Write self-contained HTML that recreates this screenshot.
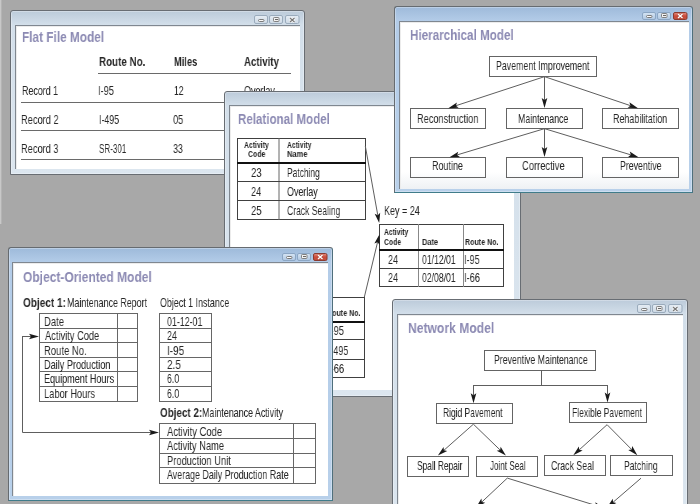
<!DOCTYPE html>
<html><head><meta charset="utf-8">
<style>
html,body{margin:0;padding:0}
body{width:700px;height:504px;position:relative;overflow:hidden;background:#a8a8a8;font-family:"Liberation Sans",sans-serif}
.lay{position:absolute;left:0;top:0;width:700px;height:504px}
.win{position:absolute;box-sizing:border-box;border:1px solid #686d73;border-radius:3px 3px 0 0;box-shadow:inset 0 0 0 1px rgba(255,255,255,.3)}
.ina{background:linear-gradient(#bccbda,#d3dfea 14px,#dce6ef)}
.act{background:linear-gradient(#9ebada,#b3cce8 14px,#b8d0ea);border-color:#666b70 #4f6f7c #3f7c8a #666b70}
.cnt{position:absolute;box-sizing:border-box;background:#fff;border-top:1px solid #7f8790;border-left:1px solid #7f8790;box-shadow:inset 1px 1px 0 #ececec}
.t{position:absolute;white-space:pre;line-height:1;transform-origin:0 0;color:#262626;will-change:transform}
.btn{position:absolute;box-sizing:border-box;width:14px;height:8px;border:1px solid #8f9fb0;border-radius:2px;background:linear-gradient(#dfe8f1,#c9d6e3)}
.act .btn{background:linear-gradient(#cfe0f1,#a9c2dc);border-color:#6f8aa6}
.act .btn.cl{background:linear-gradient(#e38a7c,#c4402f 60%,#b8402e);border-color:#7a3028}
svg{position:absolute;left:0;top:0}
</style></head><body><svg width="0" height="0" style="position:absolute"><defs><linearGradient id="gina" x1="0" y1="0" x2="0" y2="1"><stop offset="0" stop-color="#e6edf4"/><stop offset="1" stop-color="#cdd9e5"/></linearGradient><linearGradient id="gact" x1="0" y1="0" x2="0" y2="1"><stop offset="0" stop-color="#d6e5f4"/><stop offset="1" stop-color="#afc7e2"/></linearGradient><linearGradient id="gcl" x1="0" y1="0" x2="0" y2="1"><stop offset="0" stop-color="#e49484"/><stop offset=".5" stop-color="#cc4a3a"/><stop offset="1" stop-color="#c0503e"/></linearGradient></defs></svg>
<div style="position:absolute;left:0;top:0;width:1px;height:224px;background:#c8c8c8"></div><div style="position:absolute;left:1px;top:0;width:1px;height:224px;background:#b4b4b4"></div>

<!-- Flat file -->
<div class="lay">
 <div class="win ina" style="left:10px;top:10px;width:295px;height:165px"></div>
<svg width="700" height="504"><rect x="254.5" y="15.5" width="13" height="8" rx="1.5" fill="url(#gina)" stroke="#9aabbc"/><rect x="258.5" y="19.5" width="5.5" height="2" rx="1" fill="#fafafa" stroke="#7a7a7a"/><rect x="269.5" y="15.5" width="13" height="8" rx="1.5" fill="url(#gina)" stroke="#9aabbc"/><rect x="273.5" y="17.5" width="5.5" height="4" rx=".8" fill="#f2f2f2" stroke="#808080"/><line x1="275" y1="19.5" x2="278" y2="19.5" stroke="#666" stroke-width="1"/><rect x="285.5" y="15.5" width="13.5" height="8" rx="1.5" fill="url(#gina)" stroke="#9aabbc"/><path d="M290,18 L294.5,22 M294.5,18 L290,22" stroke="#fff" stroke-width="2.6"/><path d="M290,18 L294.5,22 M294.5,18 L290,22" stroke="#777" stroke-width="1.3"/></svg>
 <div class="cnt" style="left:15px;top:25px;width:285px;height:144px"></div>
 <svg width="700" height="504" shape-rendering="crispEdges"><g stroke="#6a6a6a" stroke-width="1">
  <line x1="98" y1="73.5" x2="291" y2="73.5"/>
  <line x1="21" y1="102.5" x2="291" y2="102.5"/>
  <line x1="21" y1="130.5" x2="291" y2="130.5"/>
  <line x1="21" y1="159.5" x2="291" y2="159.5"/>
 </g></svg>
<div class="t" style="left:21.79px;top:29.73px;font-size:14.49px;font-weight:bold;color:#8c8ab3;transform:scaleX(0.816)">Flat File Model</div>
<div class="t" style="left:99.31px;top:55.55px;font-size:12.46px;font-weight:bold;transform:scaleX(0.789)">Route No.</div>
<div class="t" style="left:173.84px;top:55.59px;font-size:12.17px;font-weight:bold;transform:scaleX(0.762)">Miles</div>
<div class="t" style="left:244.01px;top:55.59px;font-size:12.17px;font-weight:bold;transform:scaleX(0.795)">Activity</div>
<div class="t" style="left:21.59px;top:85.45px;font-size:12.46px;transform:scaleX(0.714)">Record 1</div>
<div class="t" style="left:98.47px;top:85.45px;font-size:12.46px;transform:scaleX(0.739)">I-95</div>
<div class="t" style="left:173.80px;top:85.94px;font-size:11.88px;transform:scaleX(0.726)">12</div>
<div class="t" style="left:243.84px;top:85.45px;font-size:12.46px;transform:scaleX(0.719)">Overlay</div>
<div class="t" style="left:21.16px;top:114.45px;font-size:12.46px;transform:scaleX(0.745)">Record 2</div>
<div class="t" style="left:99.01px;top:114.45px;font-size:12.46px;transform:scaleX(0.708)">I-495</div>
<div class="t" style="left:173.32px;top:114.94px;font-size:11.88px;transform:scaleX(0.780)">05</div>
<div class="t" style="left:21.16px;top:143.05px;font-size:12.46px;transform:scaleX(0.743)">Record 3</div>
<div class="t" style="left:99.48px;top:143.05px;font-size:12.46px;transform:scaleX(0.648)">SR-301</div>
<div class="t" style="left:173.33px;top:143.54px;font-size:11.88px;transform:scaleX(0.756)">33</div>
</div>

<!-- Relational -->
<div class="lay">
 <div class="win ina" style="left:224px;top:91px;width:297px;height:306px"></div>
 <div class="cnt" style="left:229px;top:105px;width:285px;height:285px"></div>
 <svg width="700" height="504"><g stroke="#404040" stroke-width="1" fill="none" shape-rendering="crispEdges">
  <rect x="237.5" y="138.5" width="128" height="81"/>
  <line x1="279" y1="138" x2="279" y2="220" stroke="#666" shape-rendering="auto"/>
  <line x1="237" y1="163" x2="366" y2="163" stroke-width="2" stroke="#111"/>
  <line x1="237" y1="181.5" x2="366" y2="181.5"/>
  <line x1="237" y1="200.5" x2="366" y2="200.5"/>
  <rect x="379.5" y="224.5" width="124" height="62"/>
  <line x1="418.5" y1="224" x2="418.5" y2="287" stroke="#888"/>
  <line x1="463.5" y1="224" x2="463.5" y2="287" stroke="#888"/>
  <line x1="379" y1="250" x2="504" y2="250" stroke-width="2" stroke="#111"/>
  <line x1="379" y1="268.5" x2="504" y2="268.5"/>
  <rect x="300.5" y="297.5" width="64" height="80"/>
  <line x1="300" y1="322" x2="365" y2="322" stroke-width="2" stroke="#111"/>
  <line x1="300" y1="339.5" x2="365" y2="339.5"/>
  <line x1="300" y1="359.5" x2="365" y2="359.5"/>
 </g>
 <polyline points="365.30,146.00 377.78,215.13" fill="none" stroke="#5e5e5e" stroke-width="1"/><path d="M379.20,223.00 L374.67,213.66 L377.78,215.13 L380.18,212.66 Z" fill="#1a1a1a"/><polyline points="364.30,297.20 377.53,242.28" fill="none" stroke="#5e5e5e" stroke-width="1"/><path d="M379.40,234.50 L379.78,244.88 L377.53,242.28 L374.34,243.57 Z" fill="#1a1a1a"/></svg>
<div class="t" style="left:237.61px;top:111.73px;font-size:14.49px;font-weight:bold;color:#8c8ab3;transform:scaleX(0.798)">Relational Model</div>
<div class="t" style="left:244.16px;top:140.98px;font-size:8.41px;font-weight:bold;transform:scaleX(0.814)">Activity</div>
<div class="t" style="left:247.72px;top:150.18px;font-size:8.41px;font-weight:bold;transform:scaleX(0.826)">Code</div>
<div class="t" style="left:287.26px;top:140.98px;font-size:8.41px;font-weight:bold;transform:scaleX(0.804)">Activity</div>
<div class="t" style="left:286.95px;top:150.18px;font-size:8.41px;font-weight:bold;transform:scaleX(0.889)">Name</div>
<div class="t" style="left:250.92px;top:166.95px;font-size:12.46px;transform:scaleX(0.766)">23</div>
<div class="t" style="left:286.92px;top:166.95px;font-size:12.46px;transform:scaleX(0.677)">Patching</div>
<div class="t" style="left:250.95px;top:186.05px;font-size:12.46px;transform:scaleX(0.728)">24</div>
<div class="t" style="left:287.24px;top:186.05px;font-size:12.46px;transform:scaleX(0.714)">Overlay</div>
<div class="t" style="left:250.93px;top:205.25px;font-size:12.46px;transform:scaleX(0.751)">25</div>
<div class="t" style="left:287.17px;top:205.25px;font-size:12.46px;transform:scaleX(0.688)">Crack Sealing</div>
<div class="t" style="left:384.18px;top:204.69px;font-size:12.17px;transform:scaleX(0.741)">Key = 24</div>
<div class="t" style="left:384.37px;top:228.18px;font-size:8.41px;font-weight:bold;transform:scaleX(0.797)">Activity</div>
<div class="t" style="left:384.23px;top:238.48px;font-size:8.41px;font-weight:bold;transform:scaleX(0.816)">Code</div>
<div class="t" style="left:421.56px;top:238.48px;font-size:8.41px;font-weight:bold;transform:scaleX(0.880)">Date</div>
<div class="t" style="left:465.11px;top:238.48px;font-size:8.41px;font-weight:bold;transform:scaleX(0.842)">Route No.</div>
<div class="t" style="left:387.75px;top:254.05px;font-size:12.46px;transform:scaleX(0.720)">24</div>
<div class="t" style="left:421.74px;top:254.05px;font-size:12.46px;transform:scaleX(0.696)">01/12/01</div>
<div class="t" style="left:464.48px;top:254.05px;font-size:12.46px;transform:scaleX(0.728)">I-95</div>
<div class="t" style="left:387.75px;top:271.55px;font-size:12.46px;transform:scaleX(0.720)">24</div>
<div class="t" style="left:421.74px;top:271.55px;font-size:12.46px;transform:scaleX(0.696)">02/08/01</div>
<div class="t" style="left:464.47px;top:271.55px;font-size:12.46px;transform:scaleX(0.744)">I-66</div>
<div class="t" style="left:327.28px;top:309.08px;font-size:8.41px;font-weight:bold;transform:scaleX(0.842)">Route No.</div>
<div class="t" style="left:327.67px;top:325.45px;font-size:12.46px;transform:scaleX(0.739)">I-95</div>
<div class="t" style="left:327.70px;top:345.15px;font-size:12.46px;transform:scaleX(0.715)">I-495</div>
<div class="t" style="left:327.65px;top:362.75px;font-size:12.46px;transform:scaleX(0.754)">I-66</div>
</div>

<!-- Hierarchical -->
<div class="lay">
 <div class="win act" style="left:394px;top:6px;width:299px;height:187px"></div>
<svg width="700" height="504"><rect x="642.5" y="12.5" width="13" height="7" rx="1.5" fill="url(#gact)" stroke="#8ba6c4"/><rect x="646.5" y="15.5" width="5.5" height="2" rx="1" fill="#fafafa" stroke="#7a7a7a"/><rect x="657.5" y="12.5" width="13" height="7" rx="1.5" fill="url(#gact)" stroke="#8ba6c4"/><rect x="661.5" y="13.5" width="5.5" height="4" rx=".8" fill="#f2f2f2" stroke="#808080"/><line x1="663" y1="15.5" x2="666" y2="15.5" stroke="#666" stroke-width="1"/><rect x="673.5" y="12.5" width="13.5" height="7" rx="1.5" fill="url(#gcl)" stroke="#8a3a30"/><path d="M678,14 L682.5,18 M682.5,14 L678,18" stroke="#8a3a30" stroke-width="2.4" opacity=".5"/><path d="M678,14 L682.5,18 M682.5,14 L678,18" stroke="#fff" stroke-width="1.4"/></svg>
 <div class="cnt" style="left:399px;top:21px;width:290px;height:168px;background:linear-gradient(#fff 150px,#eef1f4)"></div>
 <svg width="700" height="504"><g stroke="#646464" stroke-width="1" fill="none" shape-rendering="crispEdges">
  <rect x="489.5" y="56.5" width="107" height="20"/>
  <rect x="410.5" y="108.5" width="75" height="20"/>
  <rect x="506.5" y="108.5" width="76" height="20"/>
  <rect x="602.5" y="108.5" width="76" height="20"/>
  <rect x="410.5" y="157.5" width="75" height="20"/>
  <rect x="506.5" y="157.5" width="76" height="20"/>
  <rect x="602.5" y="157.5" width="76" height="20"/>
 </g>
 <polyline points="544.00,76.80 455.90,105.71" fill="none" stroke="#5e5e5e" stroke-width="1"/><path d="M448.30,108.20 L456.93,102.42 L455.90,105.71 L458.67,107.74 Z" fill="#1a1a1a"/><polyline points="544.50,76.80 544.50,100.00" fill="none" stroke="#5e5e5e" stroke-width="1"/><path d="M544.50,108.00 L541.70,98.00 L544.50,100.00 L547.30,98.00 Z" fill="#1a1a1a"/><polyline points="545.00,76.80 630.42,105.64" fill="none" stroke="#5e5e5e" stroke-width="1"/><path d="M638.00,108.20 L627.63,107.65 L630.42,105.64 L629.42,102.35 Z" fill="#1a1a1a"/><polyline points="544.00,128.80 457.16,154.90" fill="none" stroke="#5e5e5e" stroke-width="1"/><path d="M449.50,157.20 L458.27,151.64 L457.16,154.90 L459.88,157.00 Z" fill="#1a1a1a"/><polyline points="544.50,128.80 544.50,149.00" fill="none" stroke="#5e5e5e" stroke-width="1"/><path d="M544.50,157.00 L541.70,147.00 L544.50,149.00 L547.30,147.00 Z" fill="#1a1a1a"/><polyline points="545.00,128.80 630.85,154.87" fill="none" stroke="#5e5e5e" stroke-width="1"/><path d="M638.50,157.20 L628.12,156.97 L630.85,154.87 L629.75,151.61 Z" fill="#1a1a1a"/></svg>
<div class="t" style="left:410.00px;top:27.73px;font-size:14.49px;font-weight:bold;color:#8c8ab3;transform:scaleX(0.805)">Hierarchical Model</div>
<div class="t" style="left:496.40px;top:60.47px;font-size:12.32px;transform:scaleX(0.715)">Pavement Improvement</div>
<div class="t" style="left:417.06px;top:113.07px;font-size:12.32px;transform:scaleX(0.747)">Reconstruction</div>
<div class="t" style="left:517.90px;top:113.07px;font-size:12.32px;transform:scaleX(0.713)">Maintenance</div>
<div class="t" style="left:613.39px;top:113.07px;font-size:12.32px;transform:scaleX(0.725)">Rehabilitation</div>
<div class="t" style="left:432.18px;top:159.77px;font-size:12.32px;transform:scaleX(0.729)">Routine</div>
<div class="t" style="left:521.93px;top:159.77px;font-size:12.32px;transform:scaleX(0.761)">Corrective</div>
<div class="t" style="left:619.80px;top:159.77px;font-size:12.32px;transform:scaleX(0.713)">Preventive</div>
</div>

<!-- OO -->
<div class="lay">
 <div class="win act" style="left:8px;top:247px;width:325px;height:254px"></div>
<svg width="700" height="504"><rect x="282.5" y="253.5" width="13" height="7" rx="1.5" fill="url(#gact)" stroke="#8ba6c4"/><rect x="286.5" y="256.5" width="5.5" height="2" rx="1" fill="#fafafa" stroke="#7a7a7a"/><rect x="297.5" y="253.5" width="13" height="7" rx="1.5" fill="url(#gact)" stroke="#8ba6c4"/><rect x="301.5" y="254.5" width="5.5" height="4" rx=".8" fill="#f2f2f2" stroke="#808080"/><line x1="303" y1="256.5" x2="306" y2="256.5" stroke="#666" stroke-width="1"/><rect x="313.5" y="253.5" width="13.5" height="7" rx="1.5" fill="url(#gcl)" stroke="#8a3a30"/><path d="M318,255 L322.5,259 M322.5,255 L318,259" stroke="#8a3a30" stroke-width="2.4" opacity=".5"/><path d="M318,255 L322.5,259 M322.5,255 L318,259" stroke="#fff" stroke-width="1.4"/></svg>
 <div class="cnt" style="left:12px;top:262px;width:316px;height:234px"></div>
 <svg width="700" height="504"><g stroke="#666" stroke-width="1" fill="none" shape-rendering="crispEdges">
  <rect x="39.5" y="313.5" width="98" height="88"/>
  <line x1="117.5" y1="313" x2="117.5" y2="402"/>
  <line x1="39" y1="328.5" x2="138" y2="328.5"/>
  <line x1="39" y1="342.5" x2="138" y2="342.5"/>
  <line x1="39" y1="357.5" x2="138" y2="357.5"/>
  <line x1="39" y1="371.5" x2="138" y2="371.5"/>
  <line x1="39" y1="386.5" x2="138" y2="386.5"/>
  <rect x="159.5" y="313.5" width="52" height="88"/>
  <line x1="159" y1="328.5" x2="212" y2="328.5"/>
  <line x1="159" y1="342.5" x2="212" y2="342.5"/>
  <line x1="159" y1="357.5" x2="212" y2="357.5"/>
  <line x1="159" y1="371.5" x2="212" y2="371.5"/>
  <line x1="159" y1="386.5" x2="212" y2="386.5"/>
  <rect x="159.5" y="423.5" width="156" height="60"/>
  <line x1="293.5" y1="423" x2="293.5" y2="484"/>
  <line x1="159" y1="438.5" x2="316" y2="438.5"/>
  <line x1="159" y1="453.5" x2="316" y2="453.5"/>
  <line x1="159" y1="467.5" x2="316" y2="467.5"/>
 </g>
 <polyline stroke-linejoin="round" points="22.50,340.00 22.50,336.50 31.00,336.50" fill="none" stroke="#5e5e5e" stroke-width="1"/><path d="M39.00,336.50 L29.00,339.30 L31.00,336.50 L29.00,333.70 Z" fill="#1a1a1a"/><polyline points="22.5,336 22.5,432.5 150,432.5" fill="none" stroke="#5e5e5e"/><polyline points="150.00,432.50 151.00,432.50" fill="none" stroke="#5e5e5e" stroke-width="1"/><path d="M159.00,432.50 L149.00,435.30 L151.00,432.50 L149.00,429.70 Z" fill="#1a1a1a"/></svg>
<div class="t" style="left:22.92px;top:270.03px;font-size:14.49px;font-weight:bold;color:#8c8ab3;transform:scaleX(0.829)">Object-Oriented Model</div>
<div class="t" style="left:23.00px;top:297.22px;font-size:12.61px;font-weight:bold;transform:scaleX(0.796)">Object 1:</div>
<div class="t" style="left:67.29px;top:296.98px;font-size:12.90px;transform:scaleX(0.689)">Maintenance Report</div>
<div class="t" style="left:159.74px;top:296.98px;font-size:12.90px;transform:scaleX(0.690)">Object 1 Instance</div>
<div class="t" style="left:44.24px;top:316.20px;font-size:12.75px;transform:scaleX(0.746)">Date</div>
<div class="t" style="left:167.33px;top:316.20px;font-size:12.75px;transform:scaleX(0.695)">01-12-01</div>
<div class="t" style="left:45.00px;top:330.30px;font-size:12.75px;transform:scaleX(0.729)">Activity Code</div>
<div class="t" style="left:167.15px;top:330.30px;font-size:12.75px;transform:scaleX(0.704)">24</div>
<div class="t" style="left:44.24px;top:344.70px;font-size:12.75px;transform:scaleX(0.743)">Route No.</div>
<div class="t" style="left:166.70px;top:344.70px;font-size:12.75px;transform:scaleX(0.780)">I-95</div>
<div class="t" style="left:44.27px;top:358.80px;font-size:12.75px;transform:scaleX(0.715)">Daily Production</div>
<div class="t" style="left:167.10px;top:358.80px;font-size:12.75px;transform:scaleX(0.780)">2.5</div>
<div class="t" style="left:44.27px;top:373.40px;font-size:12.75px;transform:scaleX(0.711)">Equipment Hours</div>
<div class="t" style="left:167.16px;top:373.40px;font-size:12.75px;transform:scaleX(0.685)">6.0</div>
<div class="t" style="left:44.26px;top:387.70px;font-size:12.75px;transform:scaleX(0.728)">Labor Hours</div>
<div class="t" style="left:167.16px;top:387.70px;font-size:12.75px;transform:scaleX(0.685)">6.0</div>
<div class="t" style="left:159.51px;top:407.25px;font-size:12.46px;font-weight:bold;transform:scaleX(0.792)">Object 2:</div>
<div class="t" style="left:202.09px;top:407.25px;font-size:12.46px;transform:scaleX(0.714)">Maintenance Activity</div>
<div class="t" style="left:167.30px;top:425.95px;font-size:12.46px;transform:scaleX(0.758)">Activity Code</div>
<div class="t" style="left:167.30px;top:439.65px;font-size:12.46px;transform:scaleX(0.749)">Activity Name</div>
<div class="t" style="left:166.55px;top:455.15px;font-size:12.46px;transform:scaleX(0.749)">Production Unit</div>
<div class="t" style="left:167.30px;top:468.55px;font-size:12.46px;transform:scaleX(0.715)">Average Daily Production Rate</div>
</div>

<!-- Network -->
<div class="lay">
 <div class="win ina" style="left:392px;top:299px;width:296px;height:230px"></div>
<svg width="700" height="504"><rect x="637.5" y="304.5" width="13" height="8" rx="1.5" fill="url(#gina)" stroke="#9aabbc"/><rect x="641.5" y="308.5" width="5.5" height="2" rx="1" fill="#fafafa" stroke="#7a7a7a"/><rect x="652.5" y="304.5" width="13" height="8" rx="1.5" fill="url(#gina)" stroke="#9aabbc"/><rect x="656.5" y="306.5" width="5.5" height="4" rx=".8" fill="#f2f2f2" stroke="#808080"/><line x1="658" y1="308.5" x2="661" y2="308.5" stroke="#666" stroke-width="1"/><rect x="668.5" y="304.5" width="13.5" height="8" rx="1.5" fill="url(#gina)" stroke="#9aabbc"/><path d="M673,307 L677.5,311 M677.5,307 L673,311" stroke="#fff" stroke-width="2.6"/><path d="M673,307 L677.5,311 M677.5,307 L673,311" stroke="#777" stroke-width="1.3"/></svg>
 <div class="cnt" style="left:397px;top:314px;width:286px;height:220px"></div>
 <svg width="700" height="504"><g stroke="#646464" stroke-width="1" fill="none" shape-rendering="crispEdges">
  <rect x="484.5" y="350.5" width="111" height="20"/>
  <rect x="436.5" y="403.5" width="76" height="20"/>
  <rect x="569.5" y="402.5" width="77" height="20"/>
  <rect x="407.5" y="456.5" width="61" height="20"/>
  <rect x="476.5" y="456.5" width="61" height="20"/>
  <rect x="544.5" y="455.5" width="61" height="20"/>
  <rect x="610.5" y="455.5" width="62" height="20"/>
 </g>
 <polyline points="541.5,370 541.5,385.5 473.5,385.5 473.5,390" fill="none" stroke="#5e5e5e" shape-rendering="crispEdges"/><polyline points="541.5,385.5 607.5,385.5 607.5,390" fill="none" stroke="#5e5e5e" shape-rendering="crispEdges"/><polyline points="473.50,388.00 473.50,395.30" fill="none" stroke="#5e5e5e" stroke-width="1"/><path d="M473.50,403.30 L470.70,393.30 L473.50,395.30 L476.30,393.30 Z" fill="#1a1a1a"/><polyline points="607.50,388.00 607.50,394.40" fill="none" stroke="#5e5e5e" stroke-width="1"/><path d="M607.50,402.40 L604.70,392.40 L607.50,394.40 L610.30,392.40 Z" fill="#1a1a1a"/><polyline points="473.40,424.20 443.89,450.30" fill="none" stroke="#5e5e5e" stroke-width="1"/><path d="M437.90,455.60 L443.54,446.88 L443.89,450.30 L447.25,451.07 Z" fill="#1a1a1a"/><polyline points="473.40,424.20 500.15,450.04" fill="none" stroke="#5e5e5e" stroke-width="1"/><path d="M505.90,455.60 L496.76,450.67 L500.15,450.04 L500.65,446.64 Z" fill="#1a1a1a"/><polyline points="607.10,424.70 579.24,449.84" fill="none" stroke="#5e5e5e" stroke-width="1"/><path d="M573.30,455.20 L578.85,446.42 L579.24,449.84 L582.60,450.58 Z" fill="#1a1a1a"/><polyline points="607.10,424.70 631.67,449.52" fill="none" stroke="#5e5e5e" stroke-width="1"/><path d="M637.30,455.20 L628.27,450.06 L631.67,449.52 L632.25,446.12 Z" fill="#1a1a1a"/><polyline points="507.30,478.10 481.83,502.02" fill="none" stroke="#5e5e5e" stroke-width="1"/><path d="M476.00,507.50 L481.37,498.61 L481.83,502.02 L485.21,502.69 Z" fill="#1a1a1a"/><polyline points="507.30,478.10 596.36,505.64" fill="none" stroke="#5e5e5e" stroke-width="1"/><path d="M604.00,508.00 L593.62,507.72 L596.36,505.64 L595.27,502.37 Z" fill="#1a1a1a"/><polyline points="641.00,478.20 613.06,502.28" fill="none" stroke="#5e5e5e" stroke-width="1"/><path d="M607.00,507.50 L612.75,498.85 L613.06,502.28 L616.40,503.09 Z" fill="#1a1a1a"/></svg>
<div class="t" style="left:407.67px;top:320.73px;font-size:14.49px;font-weight:bold;color:#8c8ab3;transform:scaleX(0.837)">Network Model</div>
<div class="t" style="left:493.90px;top:353.69px;font-size:12.17px;transform:scaleX(0.718)">Preventive Maintenance</div>
<div class="t" style="left:443.13px;top:407.29px;font-size:12.17px;transform:scaleX(0.693)">Rigid Pavement</div>
<div class="t" style="left:572.32px;top:407.29px;font-size:12.17px;transform:scaleX(0.700)">Flexible Pavement</div>
<div class="t" style="left:417.27px;top:460.29px;font-size:12.17px;transform:scaleX(0.685)">Spall Repair</div>
<div class="t" style="left:489.92px;top:460.29px;font-size:12.17px;transform:scaleX(0.666)">Joint Seal</div>
<div class="t" style="left:550.86px;top:460.29px;font-size:12.17px;transform:scaleX(0.722)">Crack Seal</div>
<div class="t" style="left:624.31px;top:460.29px;font-size:12.17px;transform:scaleX(0.709)">Patching</div>
</div>
</body></html>
